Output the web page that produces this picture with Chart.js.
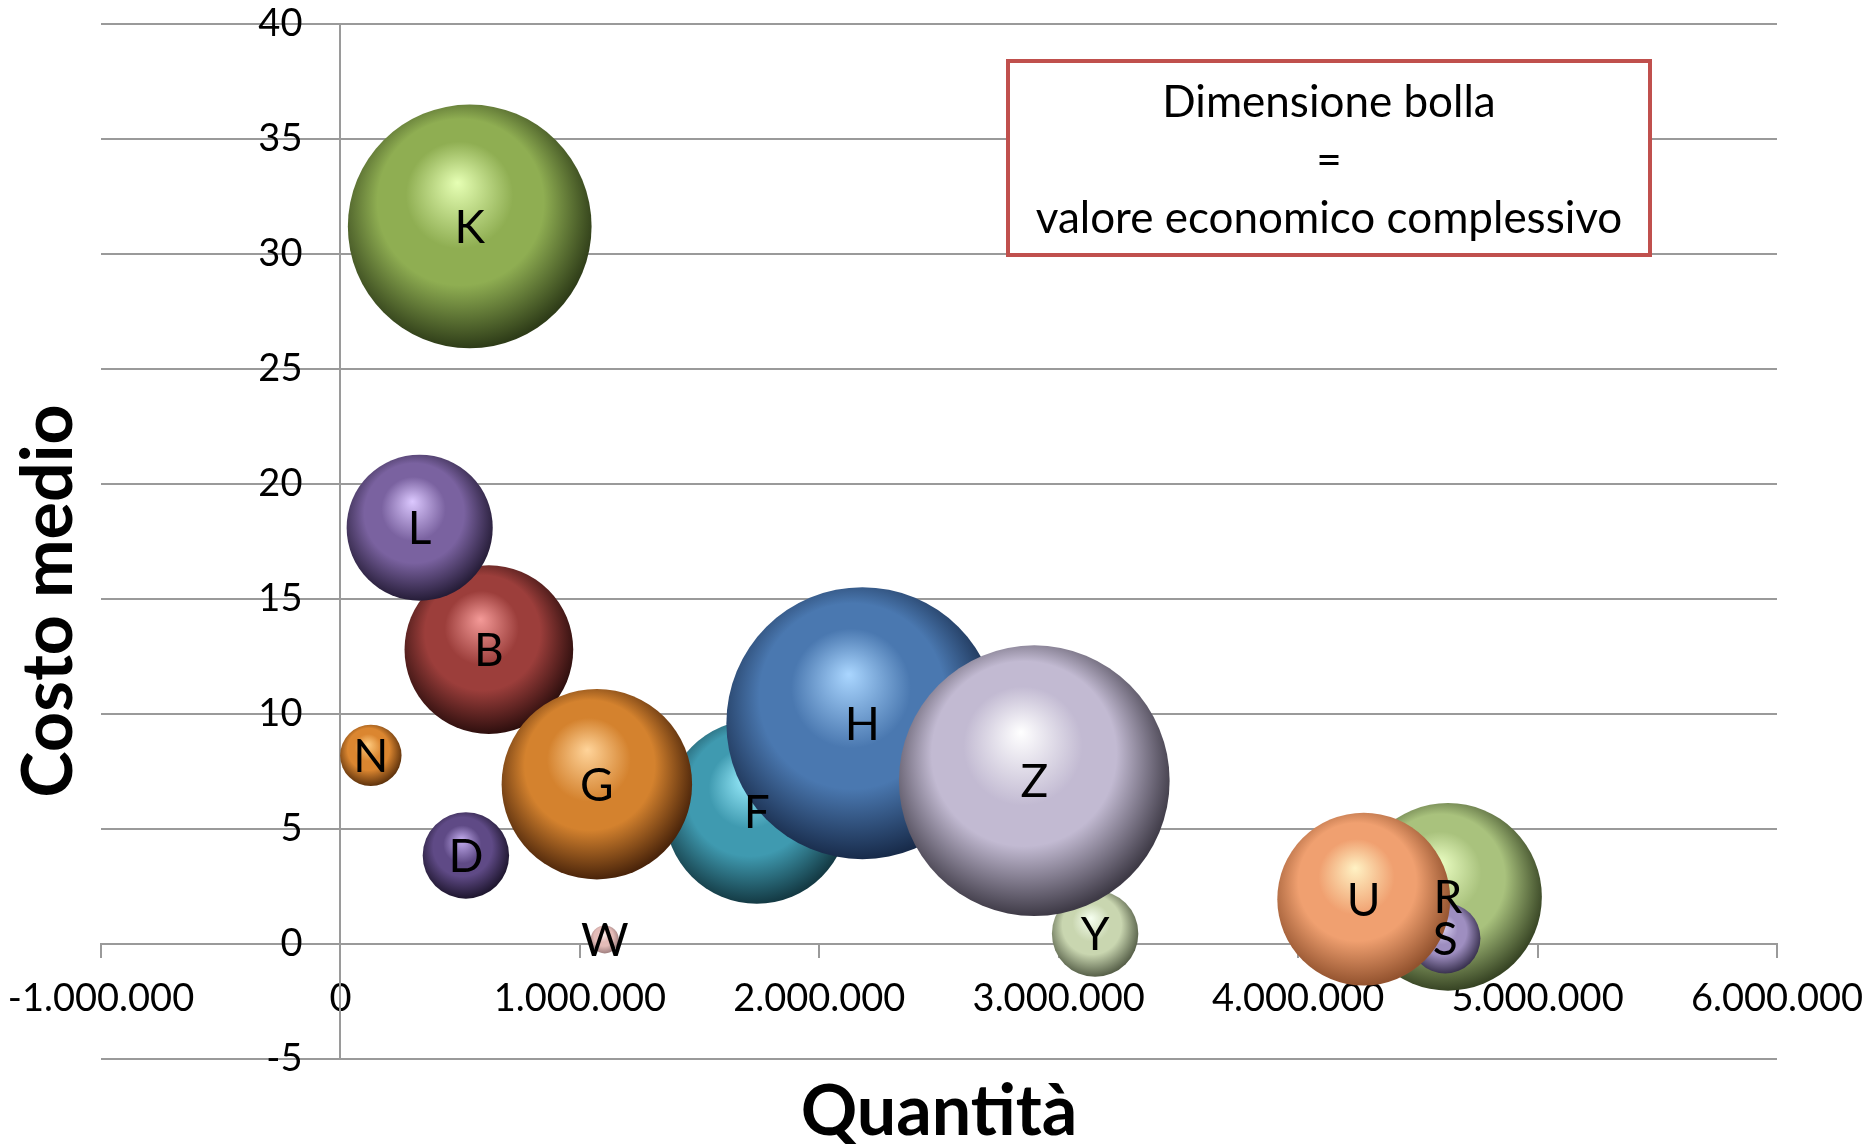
<!DOCTYPE html>
<html>
<head>
<meta charset="utf-8">
<script src="https://cdn.jsdelivr.net/npm/chart.js@4"></script>
<style>
  html, body { margin: 0; padding: 0; background: #fff; }
  canvas { display: block; }
</style>
</head>
<body>
<canvas id="chart-bolle" width="1868" height="1144"></canvas>
<script>
// dati
const etichette  = ['K', 'B', 'L', 'N', 'D', 'F', 'G', 'W', 'H', 'Y', 'Z', 'R', 'S', 'U'];
const quantita   = [540000, 620000, 331000, 127000, 524000, 1739000, 1071000, 1104000, 2180000, 3152000, 2898000, 4626000, 4614000, 4274000];
const costoMedio = [31.2, 12.8, 18.1, 8.2, 3.85, 5.75, 6.95, 0.2, 9.6, 0.45, 7.1, 2.05, 0.25, 1.95];
// valore economico complessivo (milioni)
const valore     = [16.7, 8.0, 6.0, 1.06, 2.1, 9.5, 10.2, 0.22, 20.8, 2.1, 20.6, 9.9, 1.4, 8.4];

const xMin = -1000000, xMax = 6000000, xStep = 1000000;
const yMin = -5, yMax = 40, yStep = 5;

const titoloX = 'Quantità';
const titoloY = 'Costo medio';
const notaRighe = ['Dimensione bolla', '=', 'valore economico complessivo'];

// colori sfera: [riflesso, base, ombra]
const COLORI = [
  ['#e6ffb4', '#8fae52', '#2e3c18'],
  ['#f49a98', '#9c3e3b', '#2e0f0e'],
  ['#dcc8ff', '#7a62a0', '#261d38'],
  ['#ffcc80', '#db8630', '#5e320c'],
  ['#c4aef0', '#5f4a86', '#1e162e'],
  ['#9cefff', '#3f9ab0', '#143a44'],
  ['#ffd49a', '#d4822e', '#4a240a'],
  ['#fff2f0', '#e4bcb8', '#a08080'],
  ['#aad6ff', '#4a78b0', '#182b4a'],
  ['#f6fff0', '#c9d6b0', '#565f48'],
  ['#ffffff', '#c2bad2', '#3e3a46'],
  ['#ecffc4', '#a9c27d', '#374424'],
  ['#e0d8f8', '#9e8ec0', '#3a3250'],
  ['#fff2c4', '#f0a070', '#92522e'],
];

const GRIGIO = '#9a9a9a';
const FONT = 'Lato';
const R_MAX = 136;
const vMax = Math.max(...valore);

function formatoIt(v) {
  const s = Math.abs(v).toString().replace(/\B(?=(\d{3})+(?!\d))/g, '.');
  return (v < 0 ? '-' : '') + s;
}

function sfera(c) {
  const col = COLORI[c.dataIndex] || COLORI[0];
  if (c.type !== 'data' || !c.raw) return col[1];
  const chart = c.chart;
  const px = chart.scales.x.getPixelForValue(c.raw.x);
  const py = chart.scales.y.getPixelForValue(c.raw.y);
  const r = c.raw.r;
  if (![px, py, r].every(Number.isFinite)) return col[1];
  const g = chart.ctx.createRadialGradient(px - 0.1 * r, py - 0.36 * r, 0, px - 0.06 * r, py - 0.1 * r, 1.1 * r);
  g.addColorStop(0, col[0]);
  g.addColorStop(0.4, col[1]);
  g.addColorStop(0.62, col[1]);
  g.addColorStop(1, col[2]);
  return g;
}

// le etichette che sporgono non devono restringere l'area del grafico
function senzaSporgenze(scale) {
  scale.paddingLeft = 0;
  scale.paddingRight = 0;
  scale.paddingTop = 0;
  scale.paddingBottom = 0;
}

const decorazioni = {
  id: 'decorazioni',
  afterDatasetsDraw(chart) {
    const { ctx, chartArea } = chart;
    const meta = chart.getDatasetMeta(0);
    ctx.save();
    ctx.fillStyle = '#000';
    ctx.textAlign = 'center';
    ctx.textBaseline = 'alphabetic';
    ctx.font = '46px ' + FONT;
    meta.data.forEach((el, i) => {
      ctx.fillText(etichette[i], el.x, el.y + 46 * 0.358);
    });

    // riquadro nota
    const bx = chartArea.left + 907, by = chartArea.top + 37, bw = 642, bh = 194;
    ctx.fillStyle = '#fff';
    ctx.fillRect(bx, by, bw, bh);
    ctx.strokeStyle = '#c0504d';
    ctx.lineWidth = 4;
    ctx.strokeRect(bx, by, bw, bh);
    ctx.fillStyle = '#000';
    ctx.font = '44px ' + FONT;
    notaRighe.forEach((t, i) => {
      ctx.fillText(t, bx + bw / 2, by + 56 + i * 58);
    });
    ctx.restore();
  },
  afterDraw(chart) {
    const { ctx } = chart;
    ctx.save();
    ctx.fillStyle = '#000';
    ctx.font = 'bold 70px ' + FONT;
    ctx.textAlign = 'center';
    ctx.textBaseline = 'alphabetic';
    ctx.fillText(titoloX, 939, 1135);
    ctx.translate(72, 601);
    ctx.rotate(-Math.PI / 2);
    ctx.fillText(titoloY, 0, 0);
    ctx.restore();
  },
};

new Chart(document.getElementById('chart-bolle'), {
  type: 'bubble',
  data: {
    datasets: [{
      label: 'Prodotti',
      data: quantita.map((q, i) => ({
        x: q,
        y: costoMedio[i],
        r: R_MAX * Math.sqrt(valore[i] / vMax),
      })),
      backgroundColor: sfera,
      borderWidth: 0,
      hoverBorderWidth: 0,
      clip: false,
    }],
  },
  options: {
    responsive: false,
    animation: false,
    events: [],
    layout: {
      autoPadding: false,
      padding: { left: 101, right: 91, top: 24, bottom: 85 },
    },
    plugins: {
      legend: { display: false },
      tooltip: { enabled: false },
    },
    scales: {
      x: {
        type: 'linear',
        min: xMin, max: xMax,
        position: { y: 0 },
        afterFit: senzaSporgenze,
        ticks: {
          stepSize: xStep,
          color: '#000',
          font: { family: FONT, size: 38 },
          padding: 19,
          maxRotation: 0,
          autoSkip: false,
          callback: v => formatoIt(v),
        },
        grid: { drawOnChartArea: false, drawTicks: true, tickLength: 13, color: GRIGIO, lineWidth: 2 },
        border: { display: true, color: GRIGIO, width: 2 },
      },
      y: {
        type: 'linear',
        min: yMin, max: yMax,
        position: { x: 0 },
        afterFit: senzaSporgenze,
        ticks: {
          stepSize: yStep,
          color: '#000',
          font: { family: FONT, size: 38 },
          // le etichette si fermano prima dell'asse
          callback: v => formatoIt(v) + '\u2003\u2009\u2009',
        },
        grid: { color: GRIGIO, lineWidth: 2, tickLength: 13, drawTicks: true },
        border: { display: true, color: GRIGIO, width: 2 },
      },
    },
  },
  plugins: [decorazioni],
});
</script>
</body>
</html>
